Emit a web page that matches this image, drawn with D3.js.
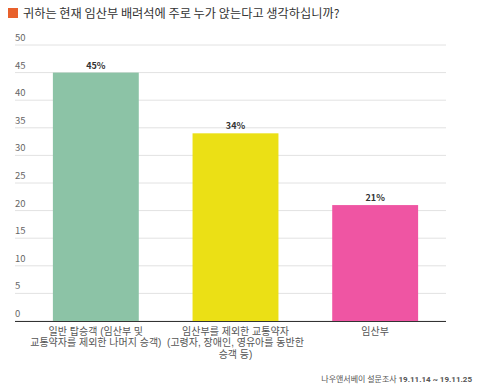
<!DOCTYPE html>
<html>
<head>
<meta charset="utf-8">
<script src="https://cdn.jsdelivr.net/npm/d3@7"></script>
<style>
  body { margin: 0; background: #fff; }
  text { font-family: "Noto Sans CJK KR", "Noto Sans", sans-serif; }
  text.cat { font-family: "Liberation Sans", "Noto Sans CJK KR", sans-serif; }
</style>
</head>
<body>
<svg id="chart" width="480" height="388"></svg>
<script>
var categories = [
	["일반 탑승객 (임산부 및", "교통약자를 제외한 나머지 승객)"],
	["임산부를 제외한 교통약자", "(고령자, 장애인, 영유아를 동반한", "승객 등)"],
	["임산부"]
];
var values = [45, 34, 21];
var colors = ["#8cc3a6", "#ebe015", "#ef55a3"];
var yTicks = [0, 5, 10, 15, 20, 25, 30, 35, 40, 45, 50];

var svg = d3.select("#chart");

// title
svg.append("rect").attr("x", 8).attr("y", 8).attr("width", 10).attr("height", 10).attr("fill", "#e8612c");
svg.append("text").attr("x", 23).attr("y", 17.5)
	.attr("font-size", 12.2).attr("fill", "#333")
	.text("귀하는 현재 임산부 배려석에 주로 누가 앉는다고 생각하십니까?");

var y = d3.scaleLinear().domain([0, 50]).range([321, 45]);
var x = d3.scaleBand().domain(d3.range(values.length)).range([26, 445])
	.paddingInner(0.385).paddingOuter(0.1925);

// gridlines + labels
var g = svg.append("g");
g.selectAll("line.grid").data(yTicks).enter().append("line")
	.attr("x1", 15).attr("x2", 446)
	.attr("y1", function (d) { return y(d); })
	.attr("y2", function (d) { return y(d); })
	.attr("stroke", "#e2e2e2").attr("stroke-width", 1);
g.selectAll("text.tick").data(yTicks).enter().append("text")
	.attr("x", 15).attr("y", function (d) { return y(d) - 4; })
	.attr("font-size", 9.5).attr("fill", "#666")
	.text(function (d) { return d; });

// bars
svg.selectAll("rect.bar").data(values).enter().append("rect")
	.attr("x", function (d, i) { return x(i); })
	.attr("width", x.bandwidth())
	.attr("y", function (d) { return y(d); })
	.attr("height", function (d) { return y(0) - y(d); })
	.attr("fill", function (d, i) { return colors[i]; });

svg.selectAll("text.val").data(values).enter().append("text")
	.attr("x", function (d, i) { return x(i) + x.bandwidth() / 2; })
	.attr("y", function (d) { return y(d) - 4; })
	.attr("text-anchor", "middle").attr("font-size", 9).attr("font-weight", "bold")
	.attr("fill", "#333")
	.text(function (d) { return d + "%"; });

// baseline
svg.append("line").attr("x1", 15).attr("x2", 446)
	.attr("y1", y(0) + 0.5).attr("y2", y(0) + 0.5)
	.attr("stroke", "#333").attr("stroke-width", 1.2);

// category labels, one text per line
categories.forEach(function (lines, i) {
	lines.forEach(function (l, j) {
		svg.append("text").attr("class", "cat")
			.attr("x", x(i) + x.bandwidth() / 2).attr("y", 334.5 + j * 11.5)
			.attr("text-anchor", "middle").attr("font-size", 10).attr("fill", "#555")
			.text(l);
	});
});

// source
var s = svg.append("text").attr("x", 472).attr("y", 382)
	.attr("text-anchor", "end").attr("font-size", 8).attr("fill", "#555");
s.append("tspan").text("나우앤서베이 설문조사 ");
s.append("tspan").attr("font-weight", "bold").attr("font-family", "Roboto, sans-serif").text("19.11.14 ~ 19.11.25");
</script>
</body>
</html>
